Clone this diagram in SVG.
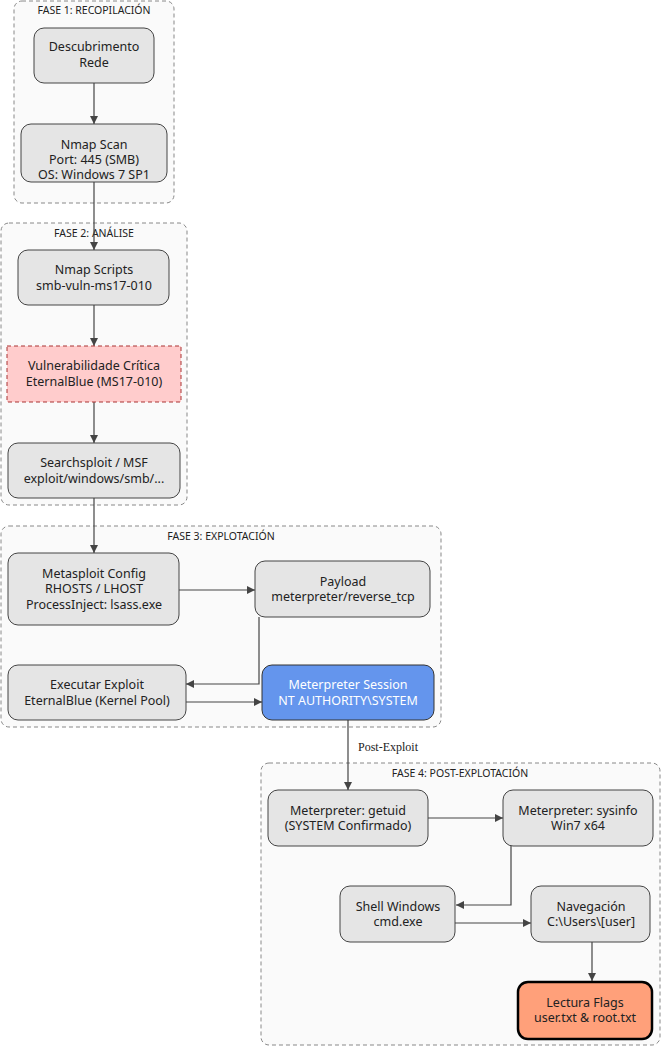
<svg xmlns="http://www.w3.org/2000/svg" width="661" height="1047" viewBox="0 0 661 1047">
<style>
text{font-family:"Noto Sans","Open Sans",sans-serif;font-size:12.5px;fill:#222;text-anchor:middle}
.cl{fill:#fafafa;stroke:#888;stroke-dasharray:4 3;stroke-width:1}
.ct{font-size:10.5px}
.n{fill:#e5e5e5;stroke:#444;stroke-width:1}
.e{fill:none;stroke:#444;stroke-width:1.2;marker-end:url(#a)}
</style>
<defs><marker id="a" viewBox="0 0 10 10" refX="10" refY="5" markerWidth="8" markerHeight="8" markerUnits="userSpaceOnUse" orient="auto"><path d="M0,0L10,5L0,10z" fill="#444"/></marker></defs>
<g id="clusters">
<rect class="cl" x="14" y="1" width="160" height="202" rx="8"/><text class="ct" x="94" y="14">FASE 1: RECOPILACIÓN</text>
<rect class="cl" x="1" y="223" width="186" height="282" rx="8"/><text class="ct" x="94" y="237">FASE 2: ANÁLISE</text>
<rect class="cl" x="1" y="526" width="440" height="201" rx="8"/><text class="ct" x="221" y="540">FASE 3: EXPLOTACIÓN</text>
<rect class="cl" x="261" y="763" width="399" height="282" rx="8"/><text class="ct" x="460" y="777">FASE 4: POST-EXPLOTACIÓN</text>
</g>
<g id="connectors">
<path class="e" d="M94,83V124"/>
<path class="e" d="M94,182V250"/>
<path class="e" d="M94,305V346"/>
<path class="e" d="M94,402V443"/>
<path class="e" d="M94,498V553"/>
<path class="e" d="M179,590H255"/>
<path class="e" d="M259,617V684H186"/>
<path class="e" d="M186,702H262"/>
<path class="e" d="M348,720V790"/>
<text x="388" y="751" style="font-family:'Liberation Serif',serif;font-size:12px">Post-Exploit</text>
<path class="e" d="M428,818H503"/>
<path class="e" d="M511,846V905H456"/>
<path class="e" d="M455,923H531"/>
<path class="e" d="M592,942V981"/>
</g>
<g id="n1"><rect class="n" x="34" y="28" width="120" height="55" rx="10"/><text x="94" y="51">Descubrimento</text><text x="94" y="67">Rede</text></g>
<g id="n2"><rect class="n" x="21" y="124" width="146" height="58" rx="10"/><text x="94" y="149">Nmap Scan</text><text x="94" y="164">Port: 445 (SMB)</text><text x="94" y="179">OS: Windows 7 SP1</text></g>
<g id="n3"><rect class="n" x="18" y="250" width="151" height="55" rx="10"/><text x="94" y="274">Nmap Scripts</text><text x="94" y="290">smb-vuln-ms17-010</text></g>
<g id="n4"><rect x="7" y="346" width="174" height="56" fill="#ffcccc" stroke="#a33" stroke-dasharray="4 3"/><text x="94" y="370">Vulnerabilidade Crítica</text><text x="94" y="386">EternalBlue (MS17-010)</text></g>
<g id="n5"><rect class="n" x="8" y="443" width="172" height="55" rx="10"/><text x="94" y="467">Searchsploit / MSF</text><text x="94" y="483">exploit/windows/smb/...</text></g>
<g id="n6"><rect class="n" x="8" y="553" width="171" height="72" rx="10"/><text x="94" y="578">Metasploit Config</text><text x="94" y="593">RHOSTS / LHOST</text><text x="94" y="609">ProcessInject: lsass.exe</text></g>
<g id="n7"><rect class="n" x="255" y="561" width="175" height="56" rx="10"/><text x="343" y="586">Payload</text><text x="343" y="601">meterpreter/reverse_tcp</text></g>
<g id="n8"><rect class="n" x="8" y="665" width="178" height="55" rx="10"/><text x="97" y="689">Executar Exploit</text><text x="97" y="705">EternalBlue (Kernel Pool)</text></g>
<g id="n9"><rect x="262" y="665" width="172" height="55" rx="10" fill="#6495ed" stroke="#333"/><text x="348" y="689" style="fill:#fff">Meterpreter Session</text><text x="348" y="705" style="fill:#fff">NT AUTHORITY\SYSTEM</text></g>
<g id="n10"><rect class="n" x="268" y="790" width="160" height="56" rx="10"/><text x="348" y="815">Meterpreter: getuid</text><text x="348" y="830">(SYSTEM Confirmado)</text></g>
<g id="n11"><rect class="n" x="503" y="790" width="150" height="56" rx="10"/><text x="578" y="815">Meterpreter: sysinfo</text><text x="578" y="830">Win7 x64</text></g>
<g id="n12"><rect class="n" x="340" y="886" width="115" height="56" rx="10"/><text x="398" y="911">Shell Windows</text><text x="398" y="926">cmd.exe</text></g>
<g id="n13"><rect class="n" x="531" y="886" width="119" height="56" rx="10"/><text x="591" y="911">Navegación</text><text x="591" y="926">C:\Users\[user]</text></g>
<g id="n14"><rect x="518" y="982" width="134" height="57" rx="10" fill="#ffa07a" stroke="#000" stroke-width="2.5"/><text x="585" y="1007">Lectura Flags</text><text x="585" y="1022">user.txt &amp; root.txt</text></g>
</svg>
